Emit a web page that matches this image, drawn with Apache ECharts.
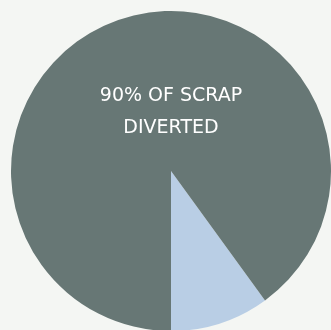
<!DOCTYPE html>
<html>
<head>
<meta charset="utf-8">
<script src="https://cdn.jsdelivr.net/npm/echarts@6/dist/echarts.min.js"></script>
<style>
html,body{margin:0;padding:0;background:#f4f6f3;}
#c{width:331px;height:330px;}
</style>
</head>
<body>
<div id="c"></div>
<script>
const categories = ['Diverted', 'Not diverted'];
const values = [10, 90];
const colors = ['#b9cee5', '#677775'];
const labelLines = ['90% OF SCRAP', 'DIVERTED'];

const chart = echarts.init(document.getElementById('c'), null, {renderer: 'canvas'});
chart.setOption({
  backgroundColor: '#f4f6f3',
  animation: false,
  series: [{
    type: 'pie',
    center: [171, 171],
    radius: [0, 160],
    startAngle: 270,
    clockwise: false,
    label: {show: false},
    labelLine: {show: false},
    emphasis: {disabled: true},
    itemStyle: {borderWidth: 0},
    data: categories.map((n, i) => ({name: n, value: values[i], itemStyle: {color: colors[i]}}))
  }],
  graphic: {
    elements: labelLines.map((t, i) => ({
      type: 'text',
      z: 100,
      x: 171,
      y: 96 + i * 32,
      style: {
        text: t,
        fill: '#ffffff',
        fontFamily: 'DejaVu Sans',
        fontSize: 19,
        fontWeight: 'normal',
        align: 'center',
        verticalAlign: 'middle'
      }
    }))
  }
});
</script>
</body>
</html>
